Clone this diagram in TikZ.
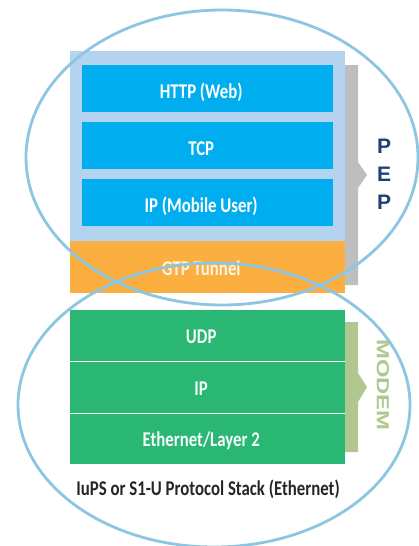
\documentclass[tikz,border=0pt]{standalone}
\usepackage{fontspec}
\setmainfont{Carlito}
\setsansfont{Liberation Sans}
\newfontfamily\stackfont[FakeStretch=0.8]{Carlito Bold}
\newfontfamily\wideletter[FakeStretch=1.36]{Liberation Sans Bold}
\definecolor{paleblue}{HTML}{B4D3EE}
\definecolor{cyanbox}{HTML}{00AEEF}
\definecolor{orangebox}{HTML}{FBAF40}
\definecolor{greenbox}{HTML}{2AB673}
\definecolor{greybar}{HTML}{BCBEC0}
\definecolor{olivebar}{HTML}{B0C78F}
\definecolor{ringblue}{HTML}{8CC6E2}
\definecolor{pepblue}{HTML}{1F3F78}
\tikzset{
  plate/.style={draw=none,fill=#1,minimum width=275pt,inner sep=0pt,anchor=north west},
  offcentre/.style={execute at begin node={\hspace*{-13pt}}},
  layer/.style={fill=cyanbox,minimum width=251pt,minimum height=47pt,inner sep=0pt,anchor=north west,text=white,offcentre,text height=19pt,text depth=0pt,font=\stackfont\fontsize{21}{21}\selectfont},
  greenlayer/.style={fill=greenbox,minimum width=275pt,minimum height=50.5pt,inner sep=0pt,anchor=north west,text=white!95!greenbox,offcentre,text height=16pt,text depth=0pt,font=\stackfont\fontsize{21}{21}\selectfont},
  ring/.style={draw=ringblue,line width=2.8pt,fill=none},
  sideletter/.style={font=\fontsize{21}{21}\selectfont\sffamily\bfseries,text=pepblue}
}
\begin{document}
\begin{tikzpicture}[x=1pt,y=-1pt]
\useasboundingbox (0,0) rectangle (418,546);
\fill[white] (0,0) rectangle (418,546);
\fill[greybar] (345,65) -- (358,65) -- (358,162) -- (367,175) -- (358,188) -- (358,285) -- (345,285) -- cycle;
\fill[olivebar] (345,322) -- (358,322) -- (358,373) -- (367,387) -- (358,402) -- (358,452) -- (345,452) -- cycle;
\node[plate=paleblue,minimum height=190pt] (outer) at (70,51) {};
\node[plate=orangebox,minimum height=52pt,text=white!85!orangebox,offcentre,text height=17pt,text depth=0pt,font=\stackfont\fontsize{21}{21}\selectfont] (gtp) at (70,241) {GTP Tunnel};
\node[layer] (http) at (82,65) {HTTP (Web)};
\node[layer] (tcp) at (82,122) {TCP};
\node[layer] (ipm) at (82,179) {IP (Mobile User)};
\node[greenlayer] (udp) at (70,310) {UDP};
\node[greenlayer] (ip) at (70,361.8) {IP};
\node[greenlayer] (eth) at (70,413.5) {Ethernet/Layer 2};
\node[font=\stackfont\fontsize{21}{21}\selectfont,text=black!85,text height=14pt,text depth=0pt] (cap) at (208,488) {IuPS or S1-U Protocol Stack (Ethernet)};
\node[sideletter] (p1) at (384,146) {P};
\node[sideletter] (e) at (384,174) {E};
\node[sideletter] (p2) at (384,202) {P};
\node[rotate=-90,font=\wideletter\fontsize{17.5}{18}\selectfont,text=olivebar] (modem) at (383,385) {MODEM};
\draw[ring] (222,157.5) ellipse [x radius=196pt,y radius=147.5pt];
\draw[ring] (214,405) ellipse [x radius=196pt,y radius=142pt];
\end{tikzpicture}
\end{document}
